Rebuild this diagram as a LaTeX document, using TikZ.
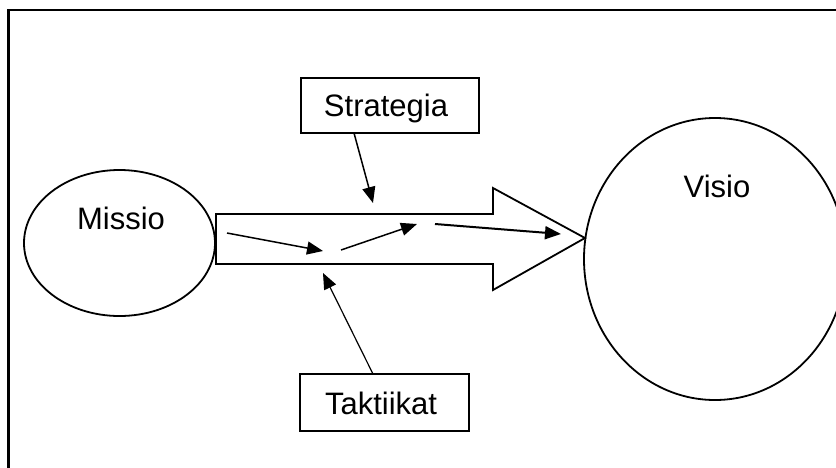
\documentclass[tikz,border=0pt]{standalone}
\usepackage{fontspec}
\setmainfont{Liberation Sans}
\usetikzlibrary{shapes.geometric,arrows.meta}
\tikzset{
  lbl/.style={font=\fontsize{31}{36}\selectfont, inner sep=0pt},
  oval/.style={ellipse, draw, line width=1.8pt, inner sep=0pt},
  labelbox/.style={draw, line width=1.8pt, inner sep=0pt},
  thin arrow/.style={line width=1.5pt, -{Triangle[length=16pt,width=13pt]}},
}
\begin{document}
\begin{tikzpicture}[x=1pt,y=-1pt]
  \clip (0,0) rectangle (836,467);
  \fill[white] (0,0) rectangle (836,467);

  % outer frame (only left and top edges fall inside the page)
  \draw[line width=2.4pt] (8.5,480) -- (8.5,10) -- (850,10);

  % mission and vision ellipses
  \node[oval, minimum width=191pt, minimum height=146pt] (missio) at (119.5,243) {};
  \node[lbl] (missiotext) at (121,218) {Missio};
  \node[oval, minimum width=262pt, minimum height=282pt] (visio) at (715,259) {};
  \node[lbl] (visiotext) at (717,186) {Visio};

  % large block arrow from mission towards vision
  \draw[line width=1.8pt, line join=miter]
    (216,214) -- (493,214) -- (493,188) -- (585,238) -- (493,290)
    -- (493,264) -- (216,264) -- cycle;

  % strategy and tactics boxes
  \node[labelbox, minimum width=178pt, minimum height=55pt] (strat) at (390,105.5) {};
  \node[lbl] (strattext) at (386,108) {Strategia};
  \node[labelbox, minimum width=169pt, minimum height=57pt] (takt) at (384.5,402.5) {};
  \node[lbl] (takttext) at (381,403) {Taktiikat};

  % free arrow ends inside the block arrow
  \coordinate (s1) at (354,133);
  \coordinate (s2) at (373,203);
  \coordinate (t1) at (373,374);
  \coordinate (t2) at (323,273);
  \coordinate (a1) at (227,233);
  \coordinate (a2) at (323,251);
  \coordinate (b1) at (341,250);
  \coordinate (b2) at (417,224);
  \coordinate (c1) at (435,224);
  \coordinate (c2) at (561,234);

  \draw[thin arrow] (s1) -- (s2);
  \draw[line width=1.2pt, -{Triangle[length=16pt,width=13pt]}] (t1) -- (t2);
  \draw[thin arrow] (a1) -- (a2);
  \draw[thin arrow] (b1) -- (b2);
  \draw[thin arrow, line width=2pt] (c1) -- (c2);
\end{tikzpicture}
\end{document}
